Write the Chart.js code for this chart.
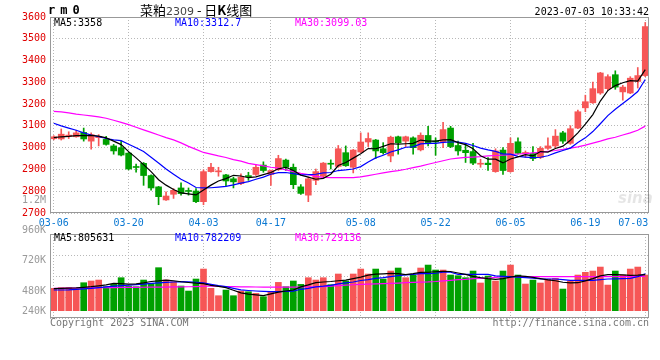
<!DOCTYPE html>
<html><head><meta charset="utf-8">
<script src="https://cdn.jsdelivr.net/npm/chart.js@4.4.0/dist/chart.umd.min.js"></script>
<style>
html,body{margin:0;padding:0;background:#fff;}
#wrap{position:relative;width:660px;height:360px;overflow:hidden;background:#fff;}
canvas{position:absolute;left:0;top:0;}
.t{position:absolute;white-space:pre;font-family:"DejaVu Sans Mono",monospace;font-size:10px;line-height:12px;}
</style></head><body>
<div id="wrap">
<canvas id="price" width="700" height="360"></canvas>
<canvas id="vol" width="700" height="360"></canvas>
</div>
<script>
// ---------- data ----------
const dates = ['03-06','03-07','03-08','03-09','03-10','03-13','03-14','03-15','03-16','03-17',
 '03-20','03-21','03-22','03-23','03-24','03-27','03-28','03-29','03-30','03-31',
 '04-03','04-04','04-06','04-07','04-10','04-11','04-12','04-13','04-14','04-17',
 '04-18','04-19','04-20','04-21','04-24','04-25','04-26','04-27','04-28','05-04',
 '05-05','05-08','05-09','05-10','05-11','05-12','05-15','05-16','05-17','05-18',
 '05-19','05-22','05-23','05-24','05-25','05-26','05-29','05-30','05-31','06-01',
 '06-02','06-05','06-06','06-07','06-08','06-09','06-12','06-13','06-14','06-15',
 '06-16','06-19','06-20','06-21','06-26','06-27','06-28','06-29','06-30','07-03'];
const tickLabels = ['03-06','03-20','04-03','04-17','05-08','05-22','06-05','06-19','07-03'];

const openP = [3041,3040,3053,3050,3070,3030,3046,3038,3008,3000,
 2975,2911,2928,2872,2820,2760,2786,2815,2801,2801,
 2752,2890,2889,2875,2857,2835,2869,2877,2920,2877,
 2899,2943,2910,2820,2782,2850,2869,2926,2914,2977,
 2910,2980,3026,3035,2995,2962,3050,3030,3045,2990,
 3056,3028,3026,3090,3010,2988,2982,2924,2929,2890,
 2989,2890,3027,2972,2973,2955,2997,3008,3068,3020,
 3090,3183,3206,3251,3271,3335,3256,3251,3304,3331];
const highP = [3055,3086,3073,3080,3090,3068,3060,3052,3015,3030,
 2978,2925,2932,2875,2822,2797,2812,2839,2815,2812,
 2898,2928,2910,2877,2865,2880,2887,2920,2935,2897,
 2965,2948,2925,2830,2865,2902,2932,2944,3010,3008,
 2992,3068,3068,3038,3023,3053,3053,3053,3050,3068,
 3098,3045,3116,3098,3030,3015,3020,2947,2955,2995,
 3000,3045,3045,2985,3005,3005,3045,3083,3075,3101,
 3173,3241,3301,3346,3335,3353,3286,3326,3368,3575];
const lowP = [3036,3035,3042,3048,3030,2993,3008,3012,2970,2962,
 2898,2888,2827,2805,2738,2758,2767,2782,2782,2748,
 2738,2887,2869,2824,2815,2830,2850,2872,2887,2827,
 2895,2895,2812,2785,2752,2830,2865,2902,2910,2914,
 2884,2977,3005,2950,2970,2935,2970,3005,2970,2985,
 3008,2965,3000,3000,2965,2932,2922,2910,2895,2887,
 2877,2887,2970,2955,2940,2950,2992,3000,3020,3015,
 3087,3165,3203,3245,3263,3268,3218,3248,3274,3326];
const closeP = [3050,3062,3056,3068,3040,3060,3048,3015,2985,2966,
 2902,2909,2872,2815,2775,2778,2804,2789,2799,2752,
 2890,2910,2891,2847,2843,2865,2867,2910,2895,2895,
 2950,2910,2830,2790,2857,2890,2929,2924,2995,2917,
 2989,3026,3042,2985,2977,3048,3023,3050,3000,3057,
 3018,3026,3083,3005,2985,2977,2929,2926,2922,2985,
 2895,3020,2974,2978,2950,2997,3008,3053,3030,3087,
 3165,3211,3271,3343,3326,3278,3278,3319,3331,3556];

const ma5 = [3046,3050,3052,3055,3055,3056,3053,3045,3030,3014,
 2982,2953,2922,2890,2853,2828,2808,2792,2788,2783,
 2806,2828,2847,2858,2873,2870,2862,2866,2876,2886,
 2903,2910,2895,2874,2865,2855,2859,2878,2918,2932,
 2952,2972,2996,2995,3006,3018,3016,3018,3020,3035,
 3030,3030,3036,3037,3023,3014,2995,2963,2947,2947,
 2930,2948,2958,2968,2962,2982,2980,2996,3007,3034,
 3068,3108,3152,3214,3262,3285,3298,3308,3306,3358];
const ma10 = [3112,3100,3090,3080,3068,3058,3050,3042,3036,3032,
 3016,3000,2982,2956,2930,2902,2878,2855,2838,2817,
 2815,2816,2819,2822,2829,2837,2844,2855,2865,2878,
 2885,2886,2881,2875,2876,2878,2884,2886,2895,2898,
 2902,2913,2934,2953,2965,2980,2990,3002,3004,3017,
 3020,3020,3024,3026,3026,3020,3010,2998,2990,2983,
 2971,2970,2960,2957,2954,2956,2963,2976,2987,2998,
 3024,3045,3074,3110,3147,3176,3203,3229,3258,3313];
const ma30 = [3167,3164,3160,3154,3150,3146,3141,3135,3126,3116,
 3106,3094,3082,3070,3058,3046,3036,3022,3006,2992,
 2978,2970,2962,2955,2945,2938,2928,2922,2916,2910,
 2906,2898,2890,2882,2876,2868,2864,2862,2862,2862,
 2862,2866,2872,2878,2884,2890,2895,2901,2908,2915,
 2924,2932,2940,2948,2952,2955,2957,2959,2962,2964,
 2966,2968,2971,2973,2976,2979,2983,2987,2992,2998,
 3004,3012,3021,3030,3040,3048,3058,3068,3080,3099];

// volume, thousands of lots
const volK = [459,473,473,438,575,610,630,493,541,678,
 507,493,630,562,884,630,596,507,404,651,
 856,459,308,425,308,404,390,356,288,390,
 582,493,610,541,678,630,678,535,754,610,
 754,856,754,856,651,815,877,678,733,877,
 938,836,836,733,719,678,815,569,712,610,
 815,938,733,548,630,569,651,664,445,610,
 733,788,815,897,527,815,733,856,897,733];
const volMa5K = [455,458,462,468,480,493,510,530,560,555,
 545,550,570,600,612,630,615,595,580,565,
 555,520,500,473,420,365,340,325,310,345,
 380,405,425,490,530,575,590,600,615,630,
 660,690,730,750,758,765,760,740,760,788,
 790,800,808,805,774,745,705,680,660,645,
 660,690,715,705,685,660,635,615,585,572,
 575,612,660,715,740,740,735,725,730,740];
const volMa10K = [425,425,428,440,450,460,475,490,505,515,
 525,535,548,560,572,582,590,596,592,585,
 570,541,515,493,460,428,415,405,398,390,
 392,398,404,440,460,490,503,520,550,570,
 590,620,640,665,680,700,720,735,745,760,
 760,770,790,790,747,747,747,747,747,715,
 706,700,690,680,670,651,651,651,640,623,
 623,623,623,640,651,655,660,665,700,760];
const volMa30K = [459,461,463,465,467,469,472,474,476,478,
 480,481,482,483,484,486,488,490,492,496,
 502,506,502,497,493,490,488,487,486,486,
 486,486,486,487,489,491,495,505,515,525,
 533,541,547,553,558,562,568,575,582,589,
 592,600,612,625,637,645,658,665,671,685,
 692,699,699,699,699,699,699,699,699,699,
 699,699,699,699,699,699,700,702,704,706];

const priceLegend = ['MA5:3358','MA10:3312.7','MA30:3099.03'];
const volLegend = ['MA5:805631','MA10:782209','MA30:729136'];
const volTickLabels = ['1.2M','960K','720K','480K','240K'];
const maColors = ['#000000','#0000ff','#ff00ff'];

// ---------- page texts ----------
const wrap = document.getElementById('wrap');
function addText(txt, css) {
  const d = document.createElement('div');
  d.className = 't'; d.textContent = txt; d.style.cssText = css; wrap.appendChild(d); return d;
}
addText('rm0', 'left:48px;top:3px;font-family:"DejaVu Sans Mono";font-weight:bold;font-size:12px;line-height:14px;letter-spacing:5px;color:#000;');
const ttl = addText('', 'left:140px;top:1px;font-family:"Noto Sans CJK SC";font-size:13px;line-height:17px;color:#000;');
ttl.innerHTML = '菜粕<span style="font-family:DejaVu Sans;font-size:11px;color:#444">2309</span> - 日<b>K</b>线图';
addText('2023-07-03 10:33:42', 'right:11px;top:6px;color:#000;');
const legX = [54, 175, 295];
priceLegend.forEach((s, i) => addText(s, `left:${legX[i]}px;top:17px;color:${maColors[i]};`));
volLegend.forEach((s, i) => addText(s, `left:${legX[i]}px;top:232px;color:${maColors[i]};`));
const volLabelTop = [194, 224, 254, 285, 305];
volTickLabels.forEach((s, i) => addText(s, `left:0;width:46px;text-align:right;top:${volLabelTop[i]}px;color:#9a9a9a;`));
addText('Copyright 2023 SINA.COM', 'left:50px;top:317px;color:#777;');
addText('http://finance.sina.com.cn', 'right:11px;top:317px;color:#777;');
addText('sina', 'left:618px;top:192px;font-family:"DejaVu Sans";font-style:italic;font-weight:bold;font-size:15px;color:rgba(0,0,0,0.10);');

// ---------- charts ----------
Chart.defaults.animation = false;
Chart.defaults.font.family = '"DejaVu Sans Mono", monospace';
Chart.defaults.font.size = 10;
const RED = '#f65656', GREEN = '#00a000', GRID = '#b8b8b8';
const candleColor = dates.map((_, i) => closeP[i] >= openP[i] ? RED : GREEN);

const frame = {
  id: 'frame',
  afterDraw(c) {
    const { ctx, chartArea: a } = c;
    ctx.save();
    ctx.strokeStyle = '#999';
    ctx.lineWidth = 1;
    ctx.strokeRect(Math.round(a.left) + 0.5, Math.round(a.top) + 0.5,
      Math.round(a.right - a.left) - 1, Math.round(a.bottom - a.top) - 1);
    ctx.restore();
  }
};

function xScale(showLabels, height) {
  return {
    type: 'category',
    offset: true,
    afterBuildTicks: s => { s.ticks = s.ticks.filter(t => tickLabels.includes(dates[t.value])); },
    afterFit: s => { s.height = height; },
    grid: { offset: false, color: GRID, drawTicks: false },
    border: { display: false, dash: [1, 2] },
    ticks: {
      display: showLabels, autoSkip: false, maxRotation: 0, minRotation: 0, padding: 4,
      color: '#0a78d2',
      callback: (v, idx, ticks) => idx === ticks.length - 1 ? dates[v] + '    ' : dates[v]
    }
  };
}
function maLine(data, color, label) {
  return { type: 'line', label, data, borderColor: color, borderWidth: 1.2, pointRadius: 0,
    tension: 0, order: 0 };
}

new Chart(document.getElementById('price'), {
  type: 'bar',
  data: {
    labels: dates,
    datasets: [
      maLine(ma5, maColors[0], 'MA5'),
      maLine(ma10, maColors[1], 'MA10'),
      maLine(ma30, maColors[2], 'MA30'),
      { type: 'bar', label: 'body', data: dates.map((_, i) => [openP[i], closeP[i]]),
        backgroundColor: candleColor, barThickness: 6, grouped: false, minBarLength: 1, order: 1 },
      { type: 'bar', label: 'wick', data: dates.map((_, i) => [lowP[i], highP[i]]),
        backgroundColor: candleColor, barThickness: 1, grouped: false, order: 2 }
    ]
  },
  options: {
    responsive: false,
    layout: { padding: { left: 0, top: 17, right: 51, bottom: 0 } },
    plugins: { legend: { display: false }, tooltip: { enabled: false } },
    scales: {
      x: xScale(true, 147),
      y: {
        min: 2700, max: 3600,
        afterFit: s => { s.width = 50; },
        grid: { color: GRID, drawTicks: false },
        border: { display: false, dash: [1, 2] },
        ticks: { stepSize: 100, color: '#e00000', padding: 4, callback: v => String(v) }
      }
    }
  },
  plugins: [frame]
});

const vMin = -150, vMax = 1576;
new Chart(document.getElementById('vol'), {
  type: 'bar',
  data: {
    labels: dates,
    datasets: [
      maLine(volMa5K, maColors[0], 'MA5'),
      maLine(volMa10K, maColors[1], 'MA10'),
      maLine(volMa30K, maColors[2], 'MA30'),
      { type: 'bar', label: 'volume', data: volK, backgroundColor: candleColor,
        barThickness: 6, grouped: false, order: 1 }
    ]
  },
  options: {
    responsive: false,
    layout: { padding: { left: 0, top: 234, right: 51, bottom: 0 } },
    plugins: { legend: { display: false }, tooltip: { enabled: false } },
    scales: {
      x: xScale(false, 42),
      y: {
        min: vMin, max: vMax,
        afterFit: s => { s.width = 50; },
        grid: { color: GRID, drawTicks: false },
        border: { display: false, dash: [1, 2] },
        ticks: { display: false, stepSize: (vMax - vMin) / 4 }
      }
    }
  },
  plugins: [frame]
});
</script>
</body></html>
